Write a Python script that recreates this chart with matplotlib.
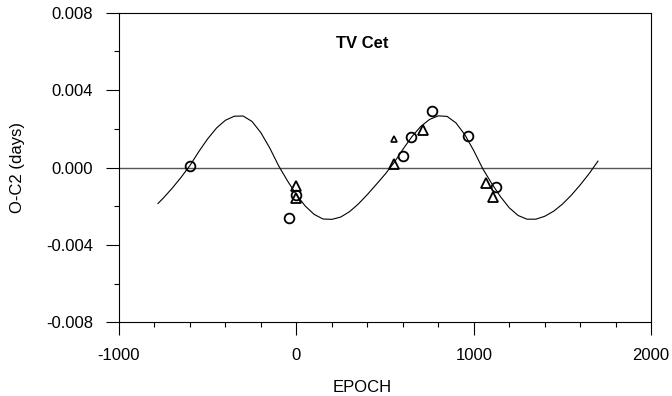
import matplotlib
matplotlib.use("Agg")
import matplotlib.pyplot as plt
from matplotlib.ticker import MultipleLocator, FormatStrFormatter

plt.rcParams['font.family'] = ['Liberation Sans', 'DejaVu Sans']
plt.rcParams['axes.unicode_minus'] = False

circ_epoch = [-602, -43, 0, 602, 649, 765, 966, 1128]
circ_oc = [0.0001, -0.0026, -0.0014, 0.00058, 0.0016, 0.0029, 0.00162, -0.00102]

tri_epoch = [0, 0, 553, 712, 1070, 1109]
tri_oc = [-0.00095, -0.0016, 0.00019, 0.00196, -0.00081, -0.00153]

small_epoch = [551]
small_oc = [0.00148]

# fitted curve
fit_epoch = [-780, -750, -700, -650, -600, -550, -500, -450, -400, -350,
             -300, -250, -200, -150, -100, -50, 0, 50, 100, 150,
             200, 250, 300, 350, 400, 450, 500, 550, 600, 650,
             700, 750, 800, 850, 900, 950, 1000, 1050, 1100, 1150,
             1200, 1250, 1300, 1350, 1400, 1450, 1500, 1550, 1600, 1650, 1700]
fit_oc = [-0.00186, -0.00158, -0.00107, -0.00051, 0.00010, 0.00082, 0.00148, 0.00204, 0.00244, 0.00265,
          0.00266, 0.00238, 0.00180, 0.00101, 0.00009, -0.00069, -0.00140, -0.00199, -0.00242, -0.00266,
          -0.00268, -0.00256, -0.00228, -0.00188, -0.00140, -0.00088, -0.00035, 0.00024, 0.00093, 0.00158,
          0.00211, 0.00248, 0.00267, 0.00264, 0.00230, 0.00169, 0.00087, -0.00005, -0.00081, -0.00150,
          -0.00208, -0.00248, -0.00267, -0.00267, -0.00252, -0.00226, -0.00189, -0.00143, -0.00090, -0.00032, 0.00033]

fig = plt.figure(figsize=(6.72, 3.96), dpi=100)
ax = fig.add_axes([0.177, 0.186, 0.792, 0.782])

ax.axhline(0, color='#555555', linewidth=1.0, zorder=1)
ax.plot(fit_epoch, fit_oc, color='black', linewidth=0.8, zorder=2)
ax.plot(circ_epoch, circ_oc, 'o', markersize=7, markerfacecolor='none',
        markeredgecolor='black', markeredgewidth=1.3, zorder=3)
ax.plot(tri_epoch, tri_oc, '^', markersize=6.5, markerfacecolor='none',
        markeredgecolor='black', markeredgewidth=1.3, zorder=3)
ax.plot(small_epoch, small_oc, '^', markersize=4, markerfacecolor='none',
        markeredgecolor='black', markeredgewidth=1.2, zorder=3)

ax.set_xlim(-1000, 2000)
ax.set_ylim(-0.008, 0.008)
ax.xaxis.set_major_locator(MultipleLocator(1000))
ax.xaxis.set_minor_locator(MultipleLocator(200))
ax.yaxis.set_major_locator(MultipleLocator(0.004))
ax.yaxis.set_minor_locator(MultipleLocator(0.002))
ax.yaxis.set_major_formatter(FormatStrFormatter('%.3f'))

ax.tick_params(which='major', direction='out', length=9.5, width=0.8, pad=9, labelsize=12)
ax.tick_params(which='minor', direction='out', length=3.3, width=0.8)
ax.tick_params(top=False, right=False, which='both')
for s in ax.spines.values():
    s.set_linewidth(0.8)

ax.set_xlabel('EPOCH', fontsize=12)
ax.set_ylabel('O-C2 (days)', fontsize=12)
ax.xaxis.set_label_coords(0.457, -0.185)
ax.yaxis.set_label_coords(-0.177, 0.5)

ax.text(0.457, 0.90, 'TV Cet', transform=ax.transAxes, ha='center', va='center',
        fontsize=12, fontweight='bold')

plt.savefig('out.png', dpi=100)
